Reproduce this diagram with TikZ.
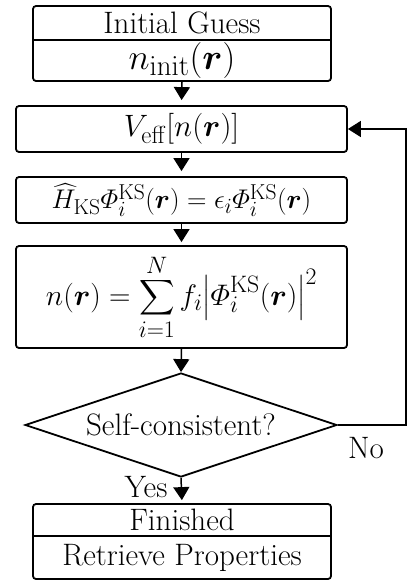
\RequirePackage{fix-cm}
\documentclass[tikz,border=0pt]{standalone}
\usepackage{amsmath}
\usepackage{bm}
\usetikzlibrary{shapes.geometric,arrows.meta}
\DeclareMathSizes{30}{30}{24}{18}
\begin{document}
\begin{tikzpicture}[x=1pt,y=-1pt,
  box/.style={draw,line width=1.8pt,rounded corners=3pt,inner sep=0pt},
  lbl/.style={inner sep=0pt,font=\fontsize{31}{35}\selectfont},
  mth/.style={font=\fontsize{30}{34}\selectfont},
  arr/.style={line width=1.5pt,-{Triangle[width=16pt,length=13pt]}},
  dec/.style={draw,line width=1.8pt,diamond,aspect=3,inner sep=0pt,minimum width=312pt,minimum height=104pt,font=\fontsize{31}{35}\selectfont}]
\useasboundingbox (0,0) rectangle (408,581);
% top box
\node[box,minimum width=298pt,minimum height=75pt] (init) at (182,43.5) {};
\node[lbl] (initA) at (182,23) {Initial Guess};
\node[lbl,mth] (initB) at (182,60.5) {\scalebox{1.2}{$n_{\mathrm{init}}(\bm{r})$}};
\draw[line width=1.8pt] (init.west |- 0,40) -- (init.east |- 0,40);
% veff
\node[box,mth,minimum width=331pt,minimum height=46pt] (veff) at (181.5,129) {\scalebox{1.03}{$V_{\mathrm{eff}}[n(\bm{r})]$}};
% KS
\node[box,mth,minimum width=331pt,minimum height=46pt] (ks) at (181.5,200) {\scalebox{0.9}{$\widehat{H}_{\mathrm{KS}}\varPhi_i^{\mathrm{KS}}(\bm{r})=\epsilon_i\varPhi_i^{\mathrm{KS}}(\bm{r})$}};
% density
\node[box,mth,minimum width=331pt,minimum height=102pt] (dens) at (181.5,297) {\scalebox{0.99}{$\displaystyle n(\bm{r})=\sum_{i=1}^{N} f_i\bigl|\varPhi_i^{\mathrm{KS}}(\bm{r})\bigr|^2$}};
% decision
\node[dec] (sc) at (181,425) {Self-consistent?};
% bottom box
\node[box,minimum width=298pt,minimum height=75pt] (fin) at (182,541.5) {};
\node[lbl] (finA) at (182,520) {Finished};
\node[lbl] (finB) at (182,557.5) {Retrieve Properties};
\draw[line width=1.8pt] (fin.west |- 0,536) -- (fin.east |- 0,536);
% arrows
\draw[arr,shorten >=5pt] (init.south) -- (veff.north);
\draw[arr,shorten >=5pt] (veff.south) -- (ks.north);
\draw[arr,shorten >=3pt] (ks.south) -- (dens.north);
\draw[arr] (dens.south) -- (sc.north);
\draw[arr,shorten >=3pt] (sc.south) -- (fin.north);
\coordinate (fb) at (406,0);
\draw[arr] (sc.east) -- (sc.east -| fb) |- (veff.east);
\node[lbl] (no) at (366,448) {No};
\node[lbl] (yes) at (146,487) {Yes};
\end{tikzpicture}
\end{document}
